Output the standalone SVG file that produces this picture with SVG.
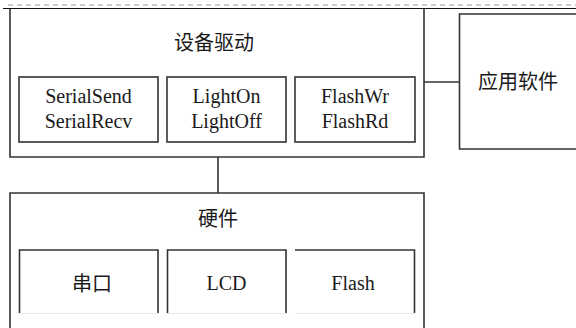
<svg xmlns="http://www.w3.org/2000/svg" width="576" height="328" viewBox="0 0 576 328">
<style>
.b{fill:#fff;stroke:#333;stroke-width:1.6}
.o{fill:none;stroke:#333;stroke-width:1.6}
.f{fill:none;stroke:#e8e8e8;stroke-width:1}
.t{font-family:"Liberation Serif","Noto Sans CJK SC",serif;font-size:20px;fill:#1a1a1a;text-anchor:middle}
.c{font-family:"Noto Sans CJK SC",sans-serif;font-size:20px;fill:#1a1a1a;text-anchor:middle}
</style>
<rect width="576" height="328" fill="#fff"/>
<line x1="8" y1="5" x2="576" y2="5" stroke="#999" stroke-width="1.2" stroke-dasharray="5,4"/>
<line x1="3" y1="8.5" x2="576" y2="8.5" stroke="#111" stroke-width="1"/>
<g id="connectors">
<line class="o" x1="424" y1="82" x2="459" y2="82"/>
<line class="o" x1="218" y1="157" x2="218" y2="193"/>
</g>
<g id="driver">
<path class="o" d="M10,9 V157 H424 V9"/>
<text class="c" x="214" y="50">设备驱动</text>
</g>
<g id="serial-api">
<rect class="b" x="19" y="77" width="139" height="65"/>
<text class="t" x="88.5" y="103">SerialSend</text>
<text class="t" x="88.5" y="128">SerialRecv</text>
</g>
<g id="light-api">
<rect class="b" x="167" y="77" width="119" height="65"/>
<text class="t" x="226.5" y="103">LightOn</text>
<text class="t" x="226.5" y="128">LightOff</text>
</g>
<g id="flash-api">
<rect class="b" x="295" y="77" width="120" height="65"/>
<text class="t" x="355" y="103">FlashWr</text>
<text class="t" x="355" y="128">FlashRd</text>
</g>
<g id="app">
<path class="o" d="M577,14 H459.5 V149 H577"/>
<text class="c" x="518" y="89">应用软件</text>
</g>
<g id="hardware">
<path class="o" d="M10,330 V193 H424 V330"/>
<text class="c" x="218" y="226">硬件</text>
</g>
<g id="uart">
<path class="o" d="M19.5,313 V250 H158 V313"/>
<line class="f" x1="19" y1="313.5" x2="158" y2="313.5"/>
<text class="c" x="92" y="291">串口</text>
</g>
<g id="lcd">
<path class="o" d="M167.5,313 V250 H286 V313"/>
<line class="f" x1="167" y1="313.5" x2="286" y2="313.5"/>
<text class="t" x="226.5" y="290">LCD</text>
</g>
<g id="flash">
<path class="o" d="M295,250 H414.5 V313"/>
<line class="f" x1="295" y1="313.5" x2="414" y2="313.5"/>
<text class="t" x="353" y="290">Flash</text>
</g>
</svg>
